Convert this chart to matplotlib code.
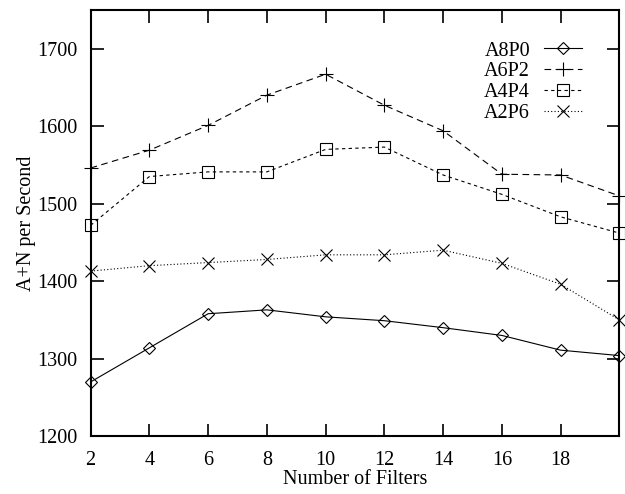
import matplotlib.pyplot as plt

plt.rcParams['font.family'] = 'Liberation Serif'
plt.rcParams['font.size'] = 14.5

filters = [2, 4, 6, 8, 10, 12, 14, 16, 18, 20]
a8p0 = [1270, 1314, 1358, 1363, 1354, 1349, 1340, 1330, 1311, 1304]
a6p2 = [1546, 1569, 1601, 1640, 1667, 1627, 1594, 1538, 1537, 1510]
a4p4 = [1472, 1535, 1541, 1541, 1570, 1573, 1537, 1512, 1483, 1462]
a2p6 = [1413, 1420, 1424, 1428, 1434, 1434, 1440, 1423, 1396, 1350]

fig = plt.figure(figsize=(6.25, 4.94), dpi=100)
ax = fig.add_axes([0.145, 0.117, 0.846, 0.863])

lw = 0.8
ax.plot(filters, a8p0, 'k-', lw=lw, marker='D', ms=6.5, mfc='none', mew=0.8, clip_on=False, label='A8P0')
ax.plot(filters, a6p2, 'k', ls=(0, (6, 4)), lw=lw, marker='+', ms=10, mew=0.8, clip_on=False, label='A6P2')
ax.plot(filters, a4p4, 'k', ls=(0, (3, 3)), lw=lw, marker='s', ms=9, mfc='none', mew=0.8, clip_on=False, label='A4P4')
ax.plot(filters, a2p6, 'k', ls=(0, (1, 2)), lw=lw, marker='x', ms=9, mew=0.8, clip_on=False, label='A2P6')

ax.set_xlim(2, 20)
ax.set_ylim(1200, 1750)
ax.set_xticks([2, 4, 6, 8, 10, 12, 14, 16, 18])
ax.set_yticks([1200, 1300, 1400, 1500, 1600, 1700])
ax.tick_params(direction='in', length=9, width=1.2, top=True, right=True)
ax.tick_params(axis='x', pad=11)
ax.tick_params(axis='y', pad=9.5)
for s in ax.spines.values():
    s.set_linewidth(1.5)

ax.set_xlabel('Number of Filters', labelpad=0)
ax.set_ylabel('A+N per Second', labelpad=1)

ax.legend(loc='upper right', bbox_to_anchor=(0.93, 0.926), frameon=False,
          markerfirst=False, handlelength=1.9, handletextpad=0.7,
          labelspacing=0.08, borderpad=0, borderaxespad=0)

fig.savefig('out.png', dpi=100)
